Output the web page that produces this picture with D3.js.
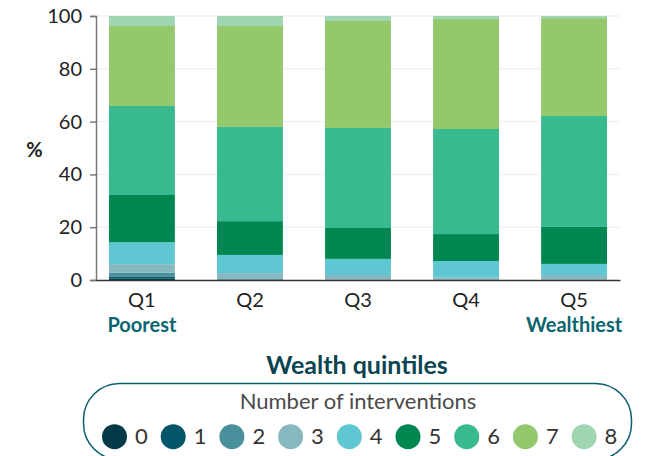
<!DOCTYPE html>
<html>
<head>
<meta charset="utf-8">
<script src="https://cdn.jsdelivr.net/npm/d3@7"></script>
<style>
  body { margin: 0; background: #fff; }
  svg { display: block; font-family: Lato, "Open Sans", sans-serif; }
</style>
</head>
<body>
<div id="chart"></div>
<script>
// categories and series (share of children, %)
const quintiles = ["Q1", "Q2", "Q3", "Q4", "Q5"];
const subLabels = ["Poorest", "", "", "", "Wealthiest"];
const interventions = ["0", "1", "2", "3", "4", "5", "6", "7", "8"];
const n0 = [0.5, 0.05, 0, 0, 0];
const n1 = [0.7, 0.1, 0.05, 0.05, 0.05];
const n2 = [1.5, 0.25, 0.15, 0.15, 0.15];
const n3 = [3.3, 2.2, 1.7, 0.8, 1.7];
const n4 = [8.3, 6.9, 6.1, 6.2, 4.2];
const n5 = [17.9, 12.8, 11.7, 10.2, 14.0];
const n6 = [33.7, 35.7, 37.9, 39.8, 42.0];
const n7 = [30.3, 38.2, 40.5, 41.7, 37.1];
const n8 = [3.8, 3.8, 1.9, 1.1, 0.8];
const yTicks = [0, 20, 40, 60, 80, 100];

const colors = ["#023b47", "#03566a", "#4a8f9c", "#87b8c0", "#5ec7d1",
                "#008751", "#38b990", "#93c86c", "#9fd5b0"];

// set the dimensions and margins of the graph
const W = 654, H = 456;
const margin = {top: 16, right: 34, bottom: 176, left: 96},
    width = W - margin.left - margin.right,
    height = H - margin.top - margin.bottom;

const svg = d3.select("#chart")
    .append("svg")
    .attr("width", W)
    .attr("height", H);

const g = svg.append("g")
    .attr("transform", `translate(${margin.left},${margin.top})`);

// build rows for the stack
const series = [n0, n1, n2, n3, n4, n5, n6, n7, n8];
const rows = quintiles.map((q, i) => {
    const r = {q: q};
    interventions.forEach((k, j) => r[k] = series[j][i]);
    return r;
});
const stacked = d3.stack().keys(interventions)(rows);

// scales
const x = d3.scaleBand()
    .domain(quintiles)
    .range([0, width])
    .paddingInner(0.39)
    .paddingOuter(0.12);

const y = d3.scaleLinear()
    .domain([0, 100])
    .range([height, 0]);

const color = d3.scaleOrdinal().domain(interventions).range(colors);

// gridlines
g.append("g")
    .selectAll("line")
    .data(yTicks.filter(d => d > 0))
    .join("line")
    .attr("x1", 0)
    .attr("x2", width)
    .attr("y1", d => y(d))
    .attr("y2", d => y(d))
    .attr("stroke", "#edf3f1")
    .attr("stroke-width", 1.5);

// bars
g.append("g")
    .selectAll("g")
    .data(stacked)
    .join("g")
    .attr("fill", d => color(d.key))
    .selectAll("rect")
    .data(d => d)
    .join("rect")
    .attr("x", d => x(d.data.q))
    .attr("width", x.bandwidth())
    .attr("y", d => y(d[1]))
    .attr("height", d => y(d[0]) - y(d[1]));

// Y axis
const yAxis = g.append("g")
    .call(d3.axisLeft(y).tickValues(yTicks).tickSize(6).tickPadding(8));
yAxis.select(".domain").attr("stroke", "#777").attr("stroke-width", 1.5);
yAxis.selectAll(".tick line").attr("stroke", "#777").attr("stroke-width", 1.5);
yAxis.selectAll("text")
    .attr("font-family", "Lato, sans-serif")
    .attr("font-size", 20)
    .attr("fill", "#222");

// Y axis label
svg.append("text")
    .attr("x", 34.5)
    .attr("y", 157)
    .attr("text-anchor", "middle")
    .attr("font-size", 20)
    .attr("font-weight", "bold")
    .attr("fill", "#222")
    .text("%");

// X axis
const xAxis = g.append("g")
    .attr("transform", `translate(0,${height})`)
    .call(d3.axisBottom(x).tickSize(0).tickPadding(13));
xAxis.select(".domain").attr("stroke", "#333").attr("stroke-width", 1.5);
xAxis.selectAll("text")
    .attr("font-family", "Lato, sans-serif")
    .attr("font-size", 20)
    .attr("fill", "#222");

// poorest / wealthiest labels
g.append("g")
    .selectAll("text")
    .data(quintiles)
    .join("text")
    .attr("x", d => x(d) + x.bandwidth() / 2)
    .attr("y", height + 52)
    .attr("text-anchor", "middle")
    .attr("font-size", 20)
    .attr("font-weight", "bold")
    .attr("fill", "#0b6570")
    .text((d, i) => subLabels[i]);

// X axis title
svg.append("text")
    .attr("x", 357)
    .attr("y", 374)
    .attr("text-anchor", "middle")
    .attr("font-size", 25)
    .attr("font-weight", "bold")
    .attr("fill", "#0a4450")
    .text("Wealth quintiles");

// ---------------------------//
//       LEGEND               //
// ---------------------------//
svg.append("rect")
    .attr("x", 83.5)
    .attr("y", 383.5)
    .attr("width", 548)
    .attr("height", 76)
    .attr("rx", 36)
    .attr("fill", "none")
    .attr("stroke", "#0b5e6e")
    .attr("stroke-width", 1.5);

svg.append("text")
    .attr("x", 358)
    .attr("y", 409)
    .attr("text-anchor", "middle")
    .attr("font-size", 22)
    .attr("fill", "#4a4a4a")
    .text("Number of interventions");

const legend = svg.append("g")
    .selectAll("g")
    .data(interventions)
    .join("g")
    .attr("transform", (d, i) => `translate(${114.5 + i * 58.7},436.7)`);

legend.append("circle")
    .attr("r", 12.5)
    .attr("fill", d => color(d));

legend.append("text")
    .attr("x", 20.5)
    .attr("y", 6.8)
    .attr("font-size", 22)
    .attr("fill", "#333")
    .text(d => d);
</script>
</body>
</html>
